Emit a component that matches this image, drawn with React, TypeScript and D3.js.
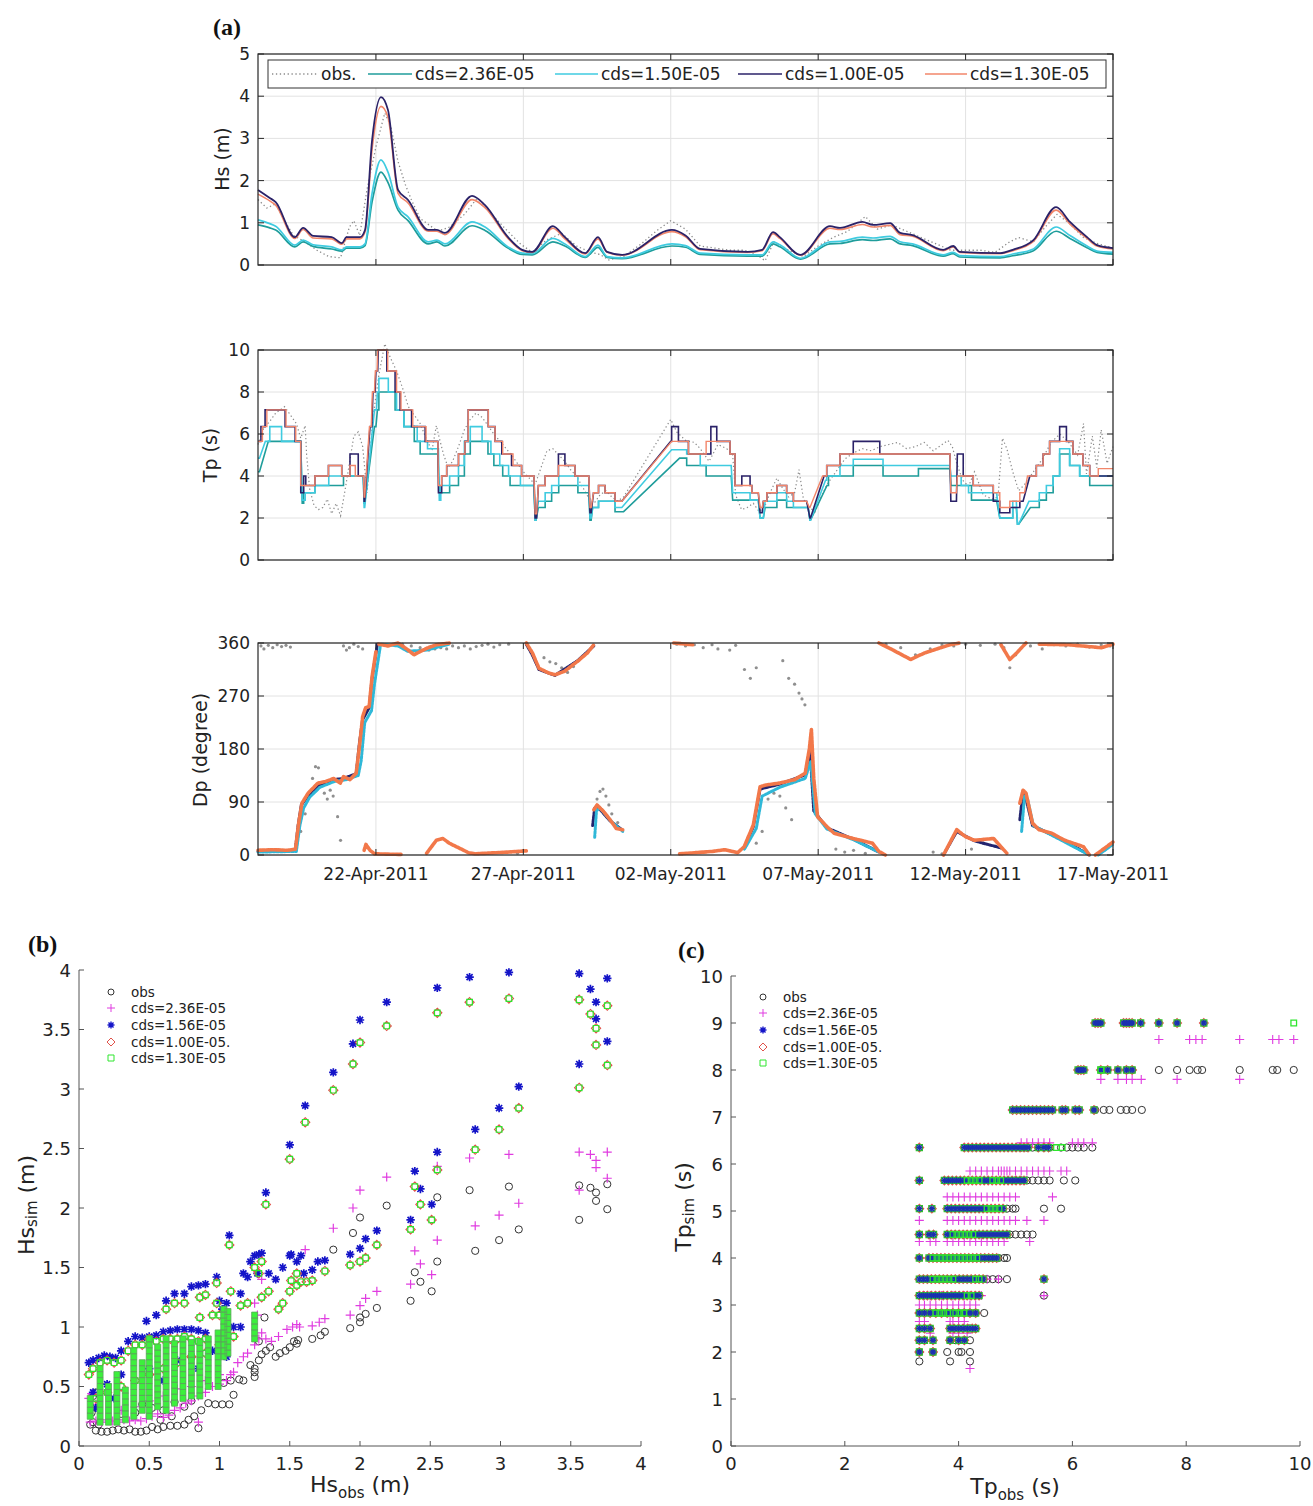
import React from 'react';
import * as d3 from 'd3';

// ---------------- DATA ----------------
const START = new Date(2011, 3, 18);
const END = new Date(2011, 4, 17);
const dateTicks = ['2011-04-22', '2011-04-27', '2011-05-02', '2011-05-07', '2011-05-12', '2011-05-17'];
const legendA = ['obs.', 'cds=2.36E-05', 'cds=1.50E-05', 'cds=1.00E-05', 'cds=1.30E-05'];
const legendBC = ['obs', 'cds=2.36E-05', 'cds=1.56E-05', 'cds=1.00E-05.', 'cds=1.30E-05'];
const hsTicks = [0, 1, 2, 3, 4, 5];
const tpTicks = [0, 2, 4, 6, 8, 10];
const dpTicks = [0, 90, 180, 270, 360];
const bTicks = [0, 0.5, 1, 1.5, 2, 2.5, 3, 3.5, 4];
const cTicks = [0, 2, 4, 6, 8, 10];
const cYTicks = [0, 1, 2, 3, 4, 5, 6, 7, 8, 9, 10];

// Hs time knots (days since 18-Apr-2011)
const tHs = [0, 0.4, 0.6, 1.25, 1.53, 1.87, 2.5, 2.85, 3.0, 3.46, 3.63, 3.87, 4.17, 4.41, 4.75, 5.09, 5.77, 6.07, 6.34, 7.26, 7.7, 8.48, 8.96, 9.3, 10.0, 10.41, 11.1, 11.53, 11.84, 12.35, 14.04, 14.5, 15.0, 16.6, 17.1, 17.47, 17.7, 18.4, 19.4, 19.74, 20.5, 20.86, 21.44, 21.78, 22.2, 23.24, 23.58, 23.8, 25.17, 25.6, 26.3, 27.07, 27.54, 28.12, 28.46, 29.0];
const hs236 = [0.95, 0.88, 0.83, 0.43, 0.55, 0.44, 0.38, 0.33, 0.4, 0.4, 0.46, 1.5, 2.2, 1.95, 1.3, 1.05, 0.5, 0.55, 0.45, 0.93, 0.82, 0.4, 0.25, 0.24, 0.55, 0.45, 0.18, 0.42, 0.18, 0.15, 0.45, 0.42, 0.25, 0.21, 0.21, 0.5, 0.43, 0.14, 0.5, 0.51, 0.6, 0.58, 0.62, 0.5, 0.46, 0.21, 0.27, 0.19, 0.17, 0.22, 0.34, 0.8, 0.63, 0.41, 0.3, 0.26];
const hs150 = [1.07, 0.98, 0.92, 0.47, 0.59, 0.48, 0.43, 0.36, 0.43, 0.43, 0.5, 1.7, 2.49, 2.2, 1.37, 1.14, 0.55, 0.59, 0.5, 1.02, 0.9, 0.43, 0.28, 0.27, 0.63, 0.5, 0.2, 0.47, 0.2, 0.17, 0.5, 0.46, 0.28, 0.24, 0.24, 0.55, 0.48, 0.16, 0.55, 0.56, 0.66, 0.64, 0.68, 0.55, 0.5, 0.24, 0.3, 0.22, 0.2, 0.26, 0.38, 0.9, 0.7, 0.45, 0.33, 0.3];
const hs100 = [1.78, 1.59, 1.49, 0.66, 0.88, 0.69, 0.66, 0.52, 0.66, 0.66, 0.83, 2.96, 3.98, 3.67, 1.78, 1.54, 0.83, 0.83, 0.76, 1.64, 1.42, 0.66, 0.36, 0.31, 0.92, 0.66, 0.28, 0.66, 0.31, 0.24, 0.83, 0.7, 0.38, 0.31, 0.36, 0.78, 0.66, 0.24, 0.92, 0.88, 1.02, 0.95, 0.99, 0.76, 0.71, 0.36, 0.45, 0.31, 0.28, 0.36, 0.59, 1.37, 1.02, 0.66, 0.47, 0.4];
const hs130 = [1.68, 1.52, 1.42, 0.63, 0.84, 0.64, 0.62, 0.49, 0.62, 0.62, 0.78, 2.75, 3.76, 3.5, 1.7, 1.47, 0.8, 0.8, 0.72, 1.55, 1.36, 0.63, 0.34, 0.3, 0.87, 0.62, 0.26, 0.62, 0.3, 0.23, 0.79, 0.67, 0.36, 0.3, 0.34, 0.74, 0.63, 0.23, 0.87, 0.84, 0.96, 0.9, 0.94, 0.72, 0.68, 0.34, 0.43, 0.3, 0.27, 0.34, 0.56, 1.3, 0.97, 0.63, 0.45, 0.38];
const hsObs = [[0, 1.55], [0.3, 1.35], [0.6, 1.45], [0.9, 1.05], [1.2, 0.7], [1.6, 0.55], [2.0, 0.35], [2.4, 0.2], [2.8, 0.17], [3.1, 0.9], [3.25, 1.05], [3.45, 0.7], [3.7, 1.8], [4.0, 2.8], [4.3, 3.6], [4.5, 3.3], [4.75, 2.45], [5.0, 1.9], [5.2, 1.55], [5.5, 1.1], [5.8, 0.95], [6.1, 0.8], [6.5, 0.9], [7.0, 1.2], [7.4, 1.55], [7.8, 1.3], [8.4, 0.85], [8.9, 0.5], [9.3, 0.3], [9.8, 0.6], [10.3, 0.75], [10.8, 0.45], [11.3, 0.3], [11.6, 0.25], [11.9, 0.12], [12.4, 0.2], [13.0, 0.5], [13.5, 0.8], [14.0, 1.05], [14.5, 0.85], [15.0, 0.45], [16.0, 0.35], [16.5, 0.35], [17.0, 0.2], [17.2, 0.1], [17.5, 0.55], [18.0, 0.35], [18.5, 0.2], [19.0, 0.45], [19.5, 0.65], [20.0, 0.8], [20.6, 1.15], [21.0, 0.85], [21.5, 0.95], [22.0, 0.8], [22.5, 0.65], [23.0, 0.5], [23.5, 0.35], [24.5, 0.35], [25.0, 0.3], [25.5, 0.55], [25.8, 0.65], [26.3, 0.55], [26.7, 0.9], [27.1, 1.2], [27.5, 1.0], [28.0, 0.65], [28.5, 0.5], [29, 0.4]];

// Tp step segments [tStart, tEnd, value]
const tp100 = [[0, 0.1, 5.65], [0.1, 0.24, 6.35], [0.24, 0.92, 7.15], [0.92, 1.26, 6.35], [1.26, 1.45, 5.65], [1.45, 1.55, 3.2], [1.55, 1.62, 4.0], [1.62, 1.93, 3.55], [1.93, 2.39, 4.0], [2.39, 2.84, 4.5], [2.84, 3.12, 4.0], [3.12, 3.4, 5.05], [3.4, 3.58, 4.0], [3.6, 3.62, 2.8], [3.8, 3.86, 6.35], [3.9, 3.97, 8.0], [4.0, 4.06, 9.0], [4.08, 4.37, 10.0], [4.37, 4.65, 9.0], [4.65, 4.82, 8.0], [4.82, 5.21, 7.15], [5.21, 5.67, 6.35], [5.67, 6.1, 5.65], [6.12, 6.23, 3.2], [6.23, 6.4, 4.0], [6.4, 6.8, 4.5], [6.8, 7.02, 5.05], [7.02, 7.13, 5.65], [7.13, 7.81, 7.15], [7.81, 8.04, 6.35], [8.04, 8.27, 5.65], [8.27, 8.6, 5.05], [8.6, 8.94, 4.5], [8.94, 9.36, 4.0], [9.4, 9.45, 2.0], [9.51, 9.74, 3.55], [9.74, 10.19, 4.0], [10.19, 10.41, 5.05], [10.41, 10.75, 4.5], [10.75, 11.22, 4.0], [11.26, 11.3, 2.25], [11.38, 11.55, 3.2], [11.55, 11.77, 3.55], [11.77, 12.11, 3.2], [12.11, 12.34, 2.8], [14.0, 14.03, 5.65], [14.03, 14.26, 6.35], [14.26, 14.6, 5.65], [14.6, 15.36, 5.05], [15.36, 15.56, 6.35], [15.56, 16.01, 5.65], [16.01, 16.18, 5.05], [16.18, 16.41, 3.55], [16.41, 16.69, 4.0], [16.69, 16.75, 3.55], [16.75, 16.97, 3.2], [17.03, 17.1, 2.25], [17.14, 17.26, 2.8], [17.26, 17.6, 3.2], [17.6, 17.93, 3.55], [17.93, 18.16, 3.2], [18.16, 18.61, 2.8], [18.72, 18.74, 2.0], [19.2, 19.29, 4.0], [19.29, 19.74, 4.5], [19.74, 20.19, 5.05], [20.19, 21.09, 5.65], [21.09, 23.47, 5.05], [23.5, 23.69, 2.8], [23.72, 23.92, 5.05], [23.92, 24.26, 4.0], [24.26, 24.94, 3.55], [24.94, 25.16, 2.8], [25.16, 25.5, 2.25], [25.5, 25.84, 2.5], [25.84, 25.95, 2.8], [26.18, 26.4, 4.0], [26.4, 26.63, 4.5], [26.63, 26.85, 5.05], [26.85, 27.19, 5.65], [27.19, 27.42, 6.35], [27.42, 27.64, 5.65], [27.64, 27.98, 5.05], [27.98, 28.21, 4.5], [28.21, 29, 4.0]];
const tp130 = [[0, 0.15, 5.65], [0.15, 0.3, 6.35], [0.3, 0.95, 7.15], [0.95, 1.28, 6.35], [1.28, 1.45, 5.65], [1.45, 1.93, 3.55], [1.93, 2.39, 4.0], [2.39, 2.84, 4.5], [2.84, 3.12, 4.0], [3.12, 3.3, 4.5], [3.3, 3.58, 4.0], [3.6, 3.62, 3.0], [3.78, 3.84, 6.35], [3.88, 3.95, 8.0], [3.98, 4.04, 9.0], [4.06, 4.4, 10.0], [4.4, 4.7, 9.0], [4.7, 4.85, 8.0], [4.85, 5.25, 7.15], [5.25, 5.7, 6.35], [5.7, 6.1, 5.65], [6.12, 6.23, 3.55], [6.23, 6.4, 4.0], [6.4, 6.8, 4.5], [6.8, 7.02, 5.05], [7.02, 7.13, 5.65], [7.13, 7.81, 7.15], [7.81, 8.04, 6.35], [8.04, 8.3, 5.65], [8.3, 8.65, 5.05], [8.65, 8.94, 4.5], [8.94, 9.36, 4.0], [9.4, 9.45, 2.2], [9.51, 9.74, 3.55], [9.74, 10.19, 4.0], [10.19, 10.75, 4.5], [10.75, 11.22, 4.0], [11.26, 11.3, 2.5], [11.38, 11.55, 3.2], [11.55, 11.77, 3.55], [11.77, 12.11, 3.2], [12.11, 12.34, 2.8], [14.03, 14.6, 5.65], [14.6, 15.2, 5.05], [15.2, 16.01, 5.65], [16.01, 16.18, 5.05], [16.18, 16.75, 3.55], [16.75, 16.97, 3.2], [17.03, 17.1, 2.5], [17.14, 17.26, 2.8], [17.26, 17.6, 3.2], [17.6, 17.93, 3.55], [17.93, 18.16, 3.2], [18.16, 18.61, 2.8], [18.7, 18.72, 2.5], [19.15, 19.29, 4.0], [19.29, 19.74, 4.5], [19.74, 23.47, 5.05], [23.5, 23.69, 3.2], [23.72, 24.26, 4.0], [24.26, 24.94, 3.55], [24.94, 25.16, 3.2], [25.16, 25.5, 2.5], [25.5, 25.84, 2.8], [25.84, 26.0, 3.2], [26.1, 26.4, 4.0], [26.4, 26.63, 4.5], [26.63, 26.85, 5.05], [26.85, 27.64, 5.65], [27.64, 27.98, 5.05], [27.98, 28.21, 4.5], [28.21, 28.5, 4.0], [28.5, 29, 4.35]];
const tp150 = [[0, 0.05, 4.85], [0.25, 0.4, 5.65], [0.4, 0.8, 6.35], [0.8, 1.45, 5.65], [1.5, 1.6, 2.85], [1.6, 1.93, 3.2], [1.93, 2.4, 3.55], [2.4, 3.57, 4.0], [3.6, 3.62, 2.5], [3.95, 4.02, 7.15], [4.05, 4.1, 8.0], [4.1, 4.42, 8.65], [4.42, 4.7, 8.0], [4.7, 4.95, 7.15], [4.95, 5.4, 6.35], [5.4, 5.75, 5.65], [5.75, 6.12, 5.3], [6.15, 6.2, 2.85], [6.2, 6.5, 3.55], [6.5, 6.8, 4.0], [6.8, 7.0, 4.5], [7.0, 7.2, 5.65], [7.2, 7.6, 6.35], [7.6, 7.9, 5.65], [7.9, 8.2, 5.05], [8.2, 8.5, 4.5], [8.5, 8.9, 4.0], [8.9, 9.36, 3.55], [9.4, 9.43, 1.9], [9.51, 9.74, 2.8], [9.74, 9.96, 3.2], [9.96, 10.2, 3.55], [10.2, 10.85, 4.0], [10.85, 11.22, 3.55], [11.26, 11.3, 2.0], [11.35, 11.55, 2.5], [11.55, 12.11, 2.8], [12.11, 12.34, 2.5], [14.03, 14.54, 5.25], [14.54, 15.0, 5.05], [15.0, 16.05, 4.5], [16.1, 16.69, 3.2], [16.69, 16.97, 2.85], [17.03, 17.14, 2.0], [17.2, 17.6, 2.8], [17.6, 17.93, 3.2], [17.93, 18.16, 2.8], [18.16, 18.66, 2.5], [18.72, 18.74, 1.9], [19.25, 19.29, 3.8], [19.29, 19.74, 4.0], [19.74, 20.19, 4.5], [20.19, 21.2, 4.8], [21.2, 23.47, 4.5], [23.5, 23.85, 4.0], [23.85, 24.1, 3.55], [24.1, 25.05, 3.2], [25.16, 25.6, 2.0], [25.6, 25.72, 2.8], [25.76, 25.8, 1.7], [26.15, 26.5, 2.8], [26.5, 26.74, 3.2], [26.74, 26.97, 3.55], [26.97, 27.19, 4.0], [27.19, 27.53, 5.3], [27.53, 27.87, 4.5], [27.87, 29, 4.0]];
const tp236 = [[0, 0.05, 4.2], [0.35, 1.45, 5.65], [1.5, 1.55, 2.7], [1.55, 1.93, 3.2], [1.93, 2.9, 3.55], [2.9, 3.57, 4.0], [3.6, 3.62, 2.7], [3.95, 4.0, 6.35], [4.05, 4.1, 7.15], [4.1, 4.65, 8.0], [4.65, 4.95, 7.15], [4.95, 5.3, 6.35], [5.3, 5.5, 5.65], [5.5, 6.1, 5.05], [6.15, 6.5, 3.2], [6.5, 6.8, 3.55], [6.8, 7.0, 4.0], [7.0, 7.2, 5.05], [7.2, 7.8, 5.65], [7.8, 8.0, 5.05], [8.0, 8.3, 4.5], [8.3, 8.55, 4.0], [8.55, 9.36, 3.55], [9.4, 9.43, 1.9], [9.51, 9.74, 2.5], [9.74, 9.96, 2.8], [9.96, 10.2, 3.2], [10.2, 10.85, 3.55], [10.85, 11.22, 3.2], [11.26, 11.3, 1.9], [11.35, 11.55, 2.5], [11.55, 12.11, 2.8], [12.11, 12.4, 2.3], [14.3, 14.54, 4.85], [14.54, 15.2, 4.5], [15.2, 16.05, 4.0], [16.1, 16.97, 2.85], [17.03, 17.14, 2.0], [17.2, 17.6, 2.5], [17.6, 17.93, 2.85], [17.93, 18.66, 2.5], [18.72, 18.74, 1.9], [19.3, 19.35, 3.55], [19.35, 20.19, 4.0], [20.19, 21.2, 4.5], [21.2, 22.4, 4.0], [22.4, 23.47, 4.35], [23.5, 24.2, 3.55], [24.2, 25.05, 2.85], [25.16, 25.6, 2.0], [25.6, 25.72, 2.5], [25.76, 25.8, 1.7], [26.2, 26.5, 2.5], [26.5, 26.74, 2.85], [26.74, 26.97, 3.2], [26.97, 27.19, 4.0], [27.19, 27.53, 5.05], [27.53, 27.87, 4.5], [27.87, 28.21, 4.0], [28.21, 29, 3.55]];
const tpObs = [[0, 5.5], [0.2, 6.3], [0.4, 6.6], [0.6, 7.0], [0.9, 7.3], [1.1, 6.9], [1.3, 6.5], [1.45, 5.8], [1.6, 6.4], [1.65, 5.0], [1.75, 3.4], [1.9, 2.6], [2.05, 2.4], [2.2, 2.5], [2.35, 2.9], [2.5, 2.2], [2.65, 2.7], [2.8, 2.1], [2.95, 3.3], [3.1, 4.6], [3.25, 5.9], [3.4, 6.1], [3.55, 5.4], [3.7, 3.2], [3.9, 6.8], [4.1, 8.8], [4.3, 10.3], [4.5, 9.6], [4.7, 9.0], [4.9, 8.2], [5.1, 7.3], [5.3, 6.9], [5.5, 6.5], [5.7, 5.8], [5.9, 5.2], [6.05, 6.4], [6.15, 5.8], [6.3, 5.0], [6.45, 4.4], [6.6, 4.7], [6.8, 5.4], [7.0, 6.2], [7.2, 6.7], [7.4, 7.0], [7.6, 6.8], [7.8, 6.4], [8.0, 6.0], [8.3, 5.5], [8.6, 5.0], [8.8, 4.6], [9.0, 4.2], [9.2, 3.9], [9.4, 3.6], [9.6, 4.4], [9.8, 5.2], [10.0, 5.3], [10.2, 5.0], [10.4, 4.7], [10.6, 4.3], [10.8, 4.0], [11.0, 3.5], [11.2, 3.0], [11.4, 2.7], [11.6, 3.1], [11.8, 3.3], [12.0, 3.0], [12.2, 2.8], [12.4, 3.0], [14.0, 6.7], [14.2, 6.1], [14.5, 5.7], [14.8, 5.6], [15.0, 5.3], [15.3, 4.7], [15.6, 5.5], [15.9, 5.3], [16.1, 5.0], [16.2, 3.1], [16.4, 2.4], [16.6, 2.5], [16.8, 2.7], [17.0, 2.3], [17.2, 2.6], [17.4, 3.3], [17.6, 3.9], [17.8, 3.4], [18.0, 3.0], [18.2, 3.2], [18.35, 4.3], [18.5, 2.9], [18.7, 2.5], [18.9, 2.3], [19.1, 3.0], [19.3, 3.6], [19.6, 4.2], [19.9, 4.8], [20.2, 5.1], [20.5, 5.3], [20.8, 5.2], [21.1, 5.4], [21.4, 5.5], [21.7, 5.6], [22.0, 5.3], [22.3, 5.4], [22.6, 5.6], [22.9, 5.2], [23.2, 5.5], [23.4, 5.7], [23.55, 5.4], [23.7, 4.6], [23.9, 3.8], [24.1, 3.5], [24.3, 4.2], [24.6, 3.1], [24.9, 2.9], [25.1, 3.0], [25.25, 5.8], [25.4, 5.3], [25.6, 4.2], [25.8, 3.3], [26.0, 3.6], [26.3, 4.2], [26.6, 4.8], [26.9, 5.6], [27.2, 6.0], [27.5, 5.6], [27.8, 5.0], [28.0, 6.5], [28.1, 4.1], [28.3, 5.9], [28.45, 4.4], [28.6, 6.2], [28.8, 4.6], [29, 5.4]];

// Dp segments [t, deg]
const dp130 = [
  [[0, 8], [0.5, 9], [1.0, 8], [1.27, 10], [1.38, 54], [1.49, 88], [1.7, 105], [2.03, 122], [2.3, 125], [2.57, 130], [2.79, 122], [2.9, 133], [3.12, 128], [3.33, 139], [3.44, 184], [3.55, 235], [3.65, 250], [3.77, 252], [3.87, 303], [4.0, 345]],
  [[3.6, 8], [3.66, 18], [3.8, 8], [3.95, 2], [4.85, 1]],
  [[4.1, 358], [4.4, 355], [4.75, 360], [5.07, 349], [5.29, 340], [5.72, 351], [6.05, 357], [6.49, 360]],
  [[5.72, 3], [6.05, 25], [6.27, 28], [6.49, 20], [7.14, 4], [7.35, 2], [8.5, 5], [9.1, 7]],
  [[9.1, 360], [9.31, 343], [9.53, 317], [9.86, 309], [10.07, 306], [10.4, 312], [10.84, 329], [11.17, 343], [11.39, 357]],
  [[11.39, 77], [11.5, 85], [11.72, 74], [11.94, 60], [12.15, 45], [12.37, 43]],
  [[14.1, 360], [14.75, 357]],
  [[14.3, 2], [15.4, 6], [15.83, 9], [16.27, 4], [16.49, 14], [16.8, 51], [17.03, 116], [17.24, 119], [17.68, 122], [18.2, 128], [18.56, 139], [18.7, 180], [18.77, 213], [18.85, 130], [18.98, 65], [19.3, 48], [19.54, 37], [20.19, 28], [20.84, 20], [21.06, 6], [21.28, 0]],
  [[21.06, 360], [21.5, 349], [22.14, 332], [22.6, 343], [23.47, 357], [23.8, 360]],
  [[23.25, 0], [23.7, 43], [24.0, 31], [24.3, 25], [24.95, 28], [25.2, 14], [25.4, 3]],
  [[25.2, 357], [25.5, 332], [25.73, 343], [26.05, 360]],
  [[25.84, 88], [25.95, 110], [26.05, 105], [26.27, 54], [26.49, 43], [26.92, 37], [27.36, 25], [28.0, 14], [28.2, 0]],
  [[26.5, 358], [27.5, 357], [28.6, 352], [29, 358]],
  [[28.4, 0], [29, 22]]
];
const dp100 = [
  [[0, 6], [1.27, 8]],
  [[1.27, 10], [1.36, 50], [1.47, 85], [1.7, 100], [2.03, 118], [2.57, 128], [2.9, 130], [3.33, 138], [3.44, 190], [3.55, 230], [3.77, 250], [3.87, 300], [4.05, 358]],
  [[9.1, 358], [9.3, 340], [9.53, 315], [10.07, 305], [10.84, 330], [11.39, 355]],
  [[11.35, 50], [11.42, 80], [11.5, 83], [11.94, 58], [12.37, 42]],
  [[16.49, 12], [16.8, 48], [17.03, 112], [17.68, 120], [18.56, 136], [18.72, 181], [18.85, 75], [19.3, 46], [20.19, 27], [21.06, 5]],
  [[23.25, 0], [23.7, 40], [24.3, 24], [25.2, 12]],
  [[25.84, 60], [25.95, 108], [26.05, 95], [26.27, 50], [27.36, 24], [28.2, 0]]
];
const dp150 = [
  [[0, 5], [1.3, 6], [1.42, 50], [1.55, 80], [1.75, 98], [2.1, 115], [2.6, 125], [3.0, 128], [3.4, 135], [3.5, 160], [3.62, 225], [3.85, 245], [3.95, 290], [4.15, 355]],
  [[4.2, 358], [4.75, 355], [5.07, 346], [5.72, 348], [6.49, 358]],
  [[11.42, 30], [11.48, 75], [11.6, 80], [12.0, 56], [12.37, 40]],
  [[16.5, 10], [16.9, 45], [17.1, 100], [17.7, 115], [18.56, 130], [18.75, 159], [18.9, 70], [19.3, 44], [20.19, 26], [21.1, 4]],
  [[25.9, 40], [26.0, 100], [26.1, 95], [26.3, 50], [27.36, 22], [28.2, 0]],
  [[28.5, 0], [29, 18]]
];
const dpObs = [[0.1, 355], [0.2, 350], [0.35, 356], [0.5, 352], [0.65, 357], [0.8, 354], [0.95, 356], [1.1, 353], [1.3, 20], [1.45, 40], [1.6, 70], [1.75, 100], [1.85, 130], [1.95, 150], [2.05, 148], [2.15, 120], [2.25, 105], [2.35, 95], [2.45, 110], [2.55, 100], [2.7, 65], [2.8, 25], [2.9, 355], [3.0, 348], [3.1, 352], [3.25, 358], [3.4, 354], [3.55, 350], [4.9, 358], [5.2, 355], [5.5, 352], [5.8, 348], [6.0, 350], [6.2, 352], [6.4, 350], [6.6, 355], [6.8, 352], [7.0, 355], [7.2, 350], [7.4, 354], [7.6, 356], [7.8, 358], [8.0, 353], [8.2, 357], [8.5, 358], [8.8, 3], [9.0, 8], [9.7, 335], [9.9, 328], [10.1, 325], [10.3, 318], [10.5, 310], [10.7, 320], [11.5, 95], [11.6, 108], [11.7, 112], [11.8, 100], [11.9, 85], [12.0, 70], [12.2, 55], [14.2, 358], [14.5, 355], [14.8, 357], [15.1, 352], [15.4, 357], [15.6, 350], [16.0, 348], [16.2, 356], [16.5, 315], [16.7, 300], [16.9, 318], [16.9, 20], [17.1, 40], [17.3, 95], [17.5, 105], [17.7, 100], [17.8, 330], [17.9, 80], [18.0, 300], [18.1, 60], [18.2, 290], [18.35, 275], [18.45, 265], [18.55, 255], [19.6, 10], [19.9, 5], [20.2, 8], [20.6, 3], [21.3, 358], [21.8, 352], [22.3, 340], [22.8, 350], [22.9, 5], [23.2, 2], [23.2, 357], [23.6, 355], [24.0, 358], [24.2, 10], [24.5, 356], [24.6, 20], [25.0, 15], [25.0, 358], [25.3, 352], [25.5, 318], [25.7, 340], [26.2, 355], [26.6, 350], [27.0, 357], [27.4, 355], [27.8, 358], [28.2, 353], [28.6, 357], [28.9, 355]];

// (b) Hs scatter [Hs_obs, Hs_sim]
const bObs = [[3.56, 2.19], [3.64, 2.17], [3.68, 2.13], [3.68, 2.06], [3.76, 2.2], [3.76, 1.99], [3.56, 1.9], [3.06, 2.18], [2.78, 2.15], [2.55, 2.09], [2.19, 2.02], [2.0, 1.92], [1.95, 1.79], [1.81, 1.65], [3.13, 1.82], [2.99, 1.73], [2.82, 1.64], [2.55, 1.55], [2.39, 1.46], [2.43, 1.38], [2.36, 1.22], [2.51, 1.3], [2.12, 1.16], [2.04, 1.11], [2.0, 1.08], [2.0, 1.04], [1.93, 0.99], [1.75, 0.96], [1.72, 0.93], [1.66, 0.9], [1.55, 0.86], [1.53, 0.88], [1.56, 0.89], [1.5, 0.83], [1.47, 0.8], [1.43, 0.78], [1.4, 0.75], [1.36, 0.83], [1.33, 0.8], [1.3, 0.77], [1.28, 0.72], [1.25, 0.58], [1.25, 0.62], [1.25, 0.65], [1.32, 1.08], [1.28, 0.88], [1.22, 0.68], [1.17, 0.55], [1.14, 0.56], [1.1, 0.43], [1.08, 0.55], [1.03, 0.53], [1.07, 0.35], [1.02, 0.35], [0.97, 0.35], [0.92, 0.36], [0.87, 0.3], [0.85, 0.15], [0.82, 0.25], [0.78, 0.22], [0.75, 0.18], [0.7, 0.17], [0.65, 0.17], [0.6, 0.16], [0.56, 0.14], [0.52, 0.16], [0.48, 0.13], [0.44, 0.12], [0.4, 0.12], [0.36, 0.14], [0.32, 0.13], [0.28, 0.14], [0.24, 0.13], [0.2, 0.12], [0.16, 0.12], [0.12, 0.13], [0.08, 0.18], [0.1, 0.2], [0.14, 0.18], [0.09, 0.28], [0.1, 0.42], [0.12, 0.45], [0.45, 0.35], [0.52, 0.32], [0.6, 0.3], [0.68, 0.37], [0.75, 0.33], [0.8, 0.38], [0.4, 0.28], [0.3, 0.27], [0.58, 0.22], [0.66, 0.25]];
const b236 = [[3.56, 2.47], [3.64, 2.45], [3.68, 2.4], [3.68, 2.34], [3.76, 2.47], [3.76, 2.25], [3.56, 2.15], [3.06, 2.45], [2.78, 2.42], [2.55, 2.35], [2.19, 2.26], [2.0, 2.15], [1.95, 2.0], [1.81, 1.83], [1.61, 1.65], [3.13, 2.04], [2.99, 1.94], [2.82, 1.85], [2.55, 1.73], [2.39, 1.64], [2.43, 1.53], [2.36, 1.36], [2.51, 1.44], [2.12, 1.3], [2.04, 1.24], [2.0, 1.18], [1.93, 1.1], [1.75, 1.07], [1.71, 1.04], [1.66, 1.01], [1.57, 1.0], [1.55, 1.02], [1.52, 1.0], [1.48, 0.98], [1.42, 0.92], [1.37, 0.88], [1.33, 0.9], [1.3, 0.95], [1.28, 0.9], [1.25, 0.85], [1.2, 0.78], [1.17, 0.75], [1.13, 0.7], [1.1, 0.62], [1.08, 0.6], [1.05, 0.55], [1.0, 0.52], [0.95, 0.5], [0.9, 0.45], [0.85, 0.42], [0.8, 0.38], [0.76, 0.36], [0.72, 0.32], [0.68, 0.3], [0.64, 0.26], [0.6, 0.24], [0.56, 0.27], [0.52, 0.25], [0.48, 0.23], [0.44, 0.21], [0.4, 0.22], [0.36, 0.21], [0.32, 0.22], [0.28, 0.2], [0.24, 0.21], [0.2, 0.22], [0.16, 0.2], [0.12, 0.21], [0.08, 0.2], [0.85, 0.2], [0.07, 0.4], [0.09, 0.44], [0.12, 0.35], [0.5, 0.38], [0.6, 0.42], [0.7, 0.48], [0.8, 0.5], [0.9, 0.55], [1.0, 0.6], [0.3, 0.3], [0.4, 0.33], [1.27, 1.1], [1.25, 1.2], [1.3, 1.4]];
const b156 = [[3.76, 3.93], [3.56, 3.97], [3.06, 3.98], [2.78, 3.94], [2.55, 3.85], [2.19, 3.73], [2.0, 3.58], [1.95, 3.38], [1.81, 3.14], [1.61, 2.86], [1.5, 2.53], [1.33, 2.13], [1.07, 1.77], [3.64, 3.84], [3.68, 3.73], [3.68, 3.59], [3.76, 3.4], [3.56, 3.21], [3.13, 3.02], [2.99, 2.84], [2.82, 2.66], [2.55, 2.47], [2.39, 2.31], [2.43, 2.16], [2.36, 1.9], [2.51, 2.03], [2.12, 1.81], [2.0, 1.66], [2.04, 1.74], [1.93, 1.61], [1.75, 1.56], [1.66, 1.48], [1.51, 1.61], [0.07, 0.7], [0.1, 0.72], [0.14, 0.74], [0.18, 0.76], [0.22, 0.75], [0.26, 0.74], [0.3, 0.8], [0.35, 0.88], [0.4, 0.92], [0.45, 0.91], [0.5, 0.92], [0.55, 0.93], [0.6, 0.96], [0.65, 0.97], [0.7, 0.98], [0.75, 0.98], [0.8, 0.98], [0.85, 0.97], [0.9, 0.95], [0.48, 1.05], [0.55, 1.1], [0.62, 1.22], [0.68, 1.28], [0.75, 1.28], [0.8, 1.34], [0.85, 1.35], [0.9, 1.36], [0.98, 1.42], [1.0, 1.22], [1.02, 1.15], [1.05, 1.2], [1.1, 1.0], [1.15, 1.28], [1.17, 1.45], [1.22, 1.55], [1.25, 1.6], [1.28, 1.61], [1.3, 1.62], [1.35, 1.45], [1.4, 1.4], [1.45, 1.5], [1.5, 1.6], [1.55, 1.55], [1.58, 1.6], [1.6, 1.45], [1.2, 1.42], [0.1, 0.45], [0.2, 0.52], [0.3, 0.6], [0.5, 0.65], [0.7, 0.72], [0.95, 0.8], [1.05, 1.05], [0.12, 0.32], [0.25, 0.4], [0.6, 0.55], [0.85, 0.65], [1.05, 0.75], [1.15, 1.0], [1.27, 1.45], [1.7, 1.55]];
const b100 = [[3.76, 3.7], [3.56, 3.75], [3.06, 3.76], [2.78, 3.73], [2.55, 3.64], [2.19, 3.53], [2.0, 3.39], [1.95, 3.21], [1.81, 2.99], [1.61, 2.72], [1.5, 2.41], [1.33, 2.03], [1.07, 1.69], [3.64, 3.63], [3.68, 3.51], [3.68, 3.37], [3.76, 3.2], [3.56, 3.01], [3.13, 2.84], [2.99, 2.66], [2.82, 2.49], [2.55, 2.32], [2.39, 2.18], [2.43, 2.03], [2.36, 1.82], [2.51, 1.9], [2.12, 1.69], [2.0, 1.55], [2.04, 1.58], [1.93, 1.52], [1.75, 1.47], [1.66, 1.39], [1.51, 1.39], [0.07, 0.6], [0.1, 0.65], [0.15, 0.7], [0.2, 0.72], [0.25, 0.7], [0.3, 0.72], [0.35, 0.8], [0.4, 0.85], [0.45, 0.85], [0.5, 0.9], [0.55, 0.88], [0.6, 0.9], [0.65, 0.9], [0.7, 0.9], [0.75, 0.92], [0.8, 0.9], [0.85, 0.88], [0.9, 0.9], [0.62, 1.15], [0.68, 1.2], [0.75, 1.2], [0.86, 1.08], [0.86, 1.25], [0.9, 1.27], [0.98, 1.2], [0.98, 1.37], [1.08, 1.3], [1.25, 1.5], [1.28, 1.45], [1.3, 1.55], [1.3, 1.25], [1.35, 1.3], [1.42, 1.15], [1.45, 1.2], [1.5, 1.3], [1.55, 1.35], [1.55, 1.45], [1.58, 1.38], [1.62, 1.38], [0.12, 0.4], [0.2, 0.45], [0.3, 0.5], [0.4, 0.55], [0.5, 0.6], [0.6, 0.65], [0.7, 0.7], [0.8, 0.75], [0.9, 0.78], [1.0, 0.85], [1.05, 0.95], [1.1, 0.92], [1.15, 1.18], [1.2, 1.2], [0.95, 1.1], [1.0, 1.1]];
const b130ColX = [0.08, 0.15, 0.21, 0.27, 0.33, 0.39, 0.45, 0.5, 0.56, 0.62, 0.68, 0.74, 0.8, 0.86, 0.92, 0.99, 1.03, 1.06, 1.25];
const b130ColY = [
  [0.25, 0.3, 0.35, 0.4],
  [0.2, 0.25, 0.3, 0.35, 0.4, 0.45, 0.5, 0.55, 0.6, 0.65],
  [0.2, 0.25, 0.3, 0.35, 0.4, 0.45, 0.5],
  [0.2, 0.25, 0.3, 0.35, 0.4, 0.45, 0.5, 0.55, 0.6],
  [0.22, 0.27, 0.32, 0.37, 0.42, 0.47],
  [0.25, 0.3, 0.35, 0.4, 0.45, 0.5, 0.55, 0.6, 0.65, 0.7, 0.75, 0.8],
  [0.3, 0.35, 0.4, 0.45, 0.5, 0.55, 0.6, 0.65, 0.7],
  [0.25, 0.3, 0.35, 0.4, 0.45, 0.5, 0.55, 0.6, 0.65, 0.7, 0.75, 0.8, 0.85, 0.9],
  [0.33, 0.38, 0.43, 0.48, 0.53, 0.58, 0.63, 0.68, 0.73, 0.78, 0.83],
  [0.3, 0.35, 0.4, 0.45, 0.5, 0.55, 0.6, 0.65, 0.7, 0.75, 0.8, 0.85, 0.9],
  [0.36, 0.41, 0.46, 0.51, 0.56, 0.61, 0.66, 0.71, 0.76, 0.81, 0.86],
  [0.4, 0.45, 0.5, 0.55, 0.6, 0.65, 0.7, 0.75, 0.8, 0.85, 0.9],
  [0.42, 0.47, 0.52, 0.57, 0.62, 0.67, 0.72, 0.77, 0.82, 0.87],
  [0.42, 0.47, 0.52, 0.57, 0.62, 0.67, 0.72, 0.77, 0.82, 0.87],
  [0.5, 0.55, 0.6, 0.65, 0.7, 0.75, 0.8, 0.85, 0.9],
  [0.5, 0.55, 0.6, 0.65, 0.7, 0.75, 0.8, 0.85, 0.9, 0.95],
  [0.75, 0.8, 0.85, 0.9, 0.95, 1.0, 1.05, 1.1, 1.15],
  [0.78, 0.83, 0.88, 0.93, 0.98, 1.03, 1.08, 1.13],
  [0.9, 0.95, 1.0, 1.05, 1.1]
];

// (c) Tp scatter rows: [Tp_sim, [Tp_obs...]]
const cSimRows = [
  [9.0, [6.4, 6.45, 6.5, 6.9, 6.95, 7.0, 7.05, 7.2, 7.52, 7.84, 8.31]],
  [8.0, [6.1, 6.15, 6.2, 6.5, 6.62, 6.8, 6.95, 7.05]],
  [7.15, [4.95, 5.02, 5.09, 5.16, 5.23, 5.3, 5.37, 5.44, 5.51, 5.58, 5.65, 5.82, 5.88, 6.05, 6.12, 6.38]],
  [6.35, [3.31, 4.1, 4.17, 4.24, 4.31, 4.38, 4.45, 4.52, 4.59, 4.66, 4.73, 4.8, 4.87, 4.94, 5.01, 5.08, 5.15, 5.22, 5.4, 5.5, 5.58]],
  [5.65, [3.31, 3.75, 3.82, 3.89, 3.96, 4.03, 4.1, 4.17, 4.24, 4.31, 4.38, 4.45, 4.52, 4.59, 4.66, 4.73, 4.8, 4.87, 4.94, 5.01, 5.08, 5.15]],
  [5.05, [3.31, 3.53, 3.8, 3.87, 3.94, 4.01, 4.08, 4.15, 4.22, 4.29, 4.36, 4.43, 4.5, 4.57, 4.64, 4.71, 4.78]],
  [4.5, [3.31, 3.48, 3.56, 3.8, 3.87, 3.94, 4.01, 4.08, 4.15, 4.22, 4.29, 4.36, 4.43, 4.5, 4.57, 4.64, 4.71, 4.78, 4.85]],
  [4.0, [3.31, 3.48, 3.55, 3.62, 3.69, 3.76, 3.83, 3.9, 3.97, 4.04, 4.11, 4.18, 4.25, 4.32, 4.39, 4.46, 4.53, 4.6, 4.67]],
  [3.55, [3.31, 3.38, 3.45, 3.52, 3.59, 3.66, 3.73, 3.8, 3.87, 3.94, 4.01, 4.08, 4.15, 4.22, 4.29, 4.36, 4.43, 5.5]],
  [3.2, [3.31, 3.38, 3.45, 3.52, 3.59, 3.66, 3.73, 3.8, 3.87, 3.94, 4.01, 4.08, 4.15, 4.22, 4.29, 4.36]],
  [2.83, [3.31, 3.4, 3.5, 3.6, 3.7, 3.8, 3.9, 4.0, 4.1, 4.2, 4.3]],
  [2.5, [3.31, 3.4, 3.5, 3.85, 3.92, 4.0, 4.08, 4.16, 4.24, 4.3]],
  [2.25, [3.31, 3.4, 3.55, 3.85, 4.0, 4.1]],
  [2.0, [3.31, 3.55]]
];
const cGreenRows = [
  [6.35, [5.72, 5.82]],
  [5.65, [4.15, 4.22, 4.29, 4.36, 4.6, 4.67, 4.74]],
  [5.05, [4.5, 4.57, 4.64, 4.71]],
  [4.5, [3.9, 3.97, 4.04, 4.11, 4.18, 4.25]],
  [4.0, [3.55, 3.62, 3.69, 3.76, 3.83, 3.9, 3.97, 4.04, 4.11, 4.18, 4.25, 4.32]],
  [3.55, [3.55, 3.62, 3.69, 3.76, 3.83, 3.9, 4.3, 4.36]],
  [3.2, [4.15, 4.22]],
  [2.83, [3.6, 3.67, 3.74, 3.81, 3.95, 4.02, 4.09]],
  [9.0, [9.89]],
  [8.0, [6.5]]
];
const cObsRows = [
  [8.0, [6.95, 7.05, 7.52, 7.84, 8.06, 8.2, 8.28, 8.94, 9.52, 9.6, 9.89]],
  [7.15, [6.4, 6.55, 6.65, 6.85, 6.95, 7.05, 7.22]],
  [6.35, [5.1, 5.2, 5.3, 5.4, 5.5, 5.6, 5.8, 5.9, 6.0, 6.1, 6.2, 6.35]],
  [5.65, [5.0, 5.1, 5.2, 5.3, 5.4, 5.5, 5.6, 5.85, 6.05]],
  [5.05, [4.85, 4.95, 5.0, 5.5, 5.8]],
  [4.5, [4.9, 5.0, 5.1, 5.2, 5.3]],
  [4.0, [4.6, 4.7, 4.8, 4.85]],
  [3.55, [4.5, 4.6, 4.7, 4.85]],
  [3.2, [5.5]],
  [2.83, [4.2, 4.3, 4.45]],
  [2.5, [3.5, 4.2, 4.3]],
  [2.25, [3.85, 3.95, 4.1, 4.2]],
  [2.0, [3.31, 3.55, 3.8, 4.0, 4.05, 4.2]],
  [1.8, [3.31, 3.85, 4.2]]
];
const cCrossRows = [
  [8.65, [7.52, 8.06, 8.17, 8.28, 8.94, 9.52, 9.63, 9.89]],
  [7.8, [6.5, 6.8, 6.95, 7.05, 7.21, 7.84, 8.94]],
  [6.45, [5.1, 5.2, 5.3, 5.4, 5.5, 5.6, 6.0, 6.1, 6.2, 6.35]],
  [5.85, [4.2, 4.3, 4.4, 4.5, 4.6, 4.7, 4.75, 4.8, 4.85, 4.9, 5.0, 5.1, 5.2, 5.3, 5.4, 5.5, 5.6, 5.8, 5.9]],
  [5.3, [3.8, 3.9, 4.0, 4.1, 4.2, 4.3, 4.4, 4.5, 4.6, 4.7, 4.8, 4.9, 5.0, 5.65]],
  [4.8, [3.31, 3.8, 3.9, 4.0, 4.1, 4.2, 4.3, 4.4, 4.5, 4.6, 4.7, 4.8, 4.9, 5.0, 5.2, 5.5]],
  [4.35, [3.31, 3.5, 3.6, 3.8, 3.9, 4.0, 4.1, 4.2, 4.3, 4.4, 4.5, 4.6, 4.7, 4.8, 5.25]],
  [3.55, [4.3, 4.5, 4.7]],
  [3.2, [3.4, 3.5, 3.6, 3.7, 3.8, 3.9, 4.0, 4.1, 4.2, 4.3, 4.4, 5.5]],
  [3.0, [3.31, 3.4, 3.5, 3.6, 3.7, 3.8, 3.9, 4.0, 4.1, 4.2, 4.3]],
  [2.65, [3.31, 3.4, 3.85, 3.9, 4.0, 4.1]],
  [2.4, [3.5, 3.9, 4.0, 4.15]],
  [2.0, [3.31, 3.55]],
  [1.65, [4.2]]
];

// ---------------- STYLE ----------------
const colA = ['#8a8a8a', '#1f9d9b', '#3fcbe0', '#2b2268', '#f2866a'];
const colDp = { navy: '#23246e', cyan: '#2fb8d8', orange: '#f2784a', obs: '#8f8f8f' };
const mk = { obs: '#333333', cross: '#e03ce0', star: '#1414c8', diam: '#e0524a', sq: '#2ee62e' };
const SANS = '"DejaVu Sans", Verdana, sans-serif';
const SERIF = '"Liberation Serif", "Times New Roman", serif';

const circ = (x, y, r) => `M${x - r},${y}a${r},${r} 0 1,0 ${2 * r},0a${r},${r} 0 1,0 ${-2 * r},0`;
const plus = (x, y, s) => `M${x - s},${y}h${2 * s}M${x},${y - s}v${2 * s}`;
const star = (x, y, s) => plus(x, y, s) + `M${x - s * 0.72},${y - s * 0.72}l${1.44 * s},${1.44 * s}M${x - s * 0.72},${y + s * 0.72}l${1.44 * s},${-1.44 * s}`;
const diam = (x, y, s) => `M${x},${y - s}l${s},${s}l${-s},${s}l${-s},${-s}z`;
const sq = (x, y, s) => `M${x - s},${y - s}h${2 * s}v${2 * s}h${-2 * s}z`;

const flatRows = (rows) => rows.flatMap(([y, xs]) => xs.map((xv) => [xv, y]));

export default function App() {
  const td = (t) => new Date(START.getTime() + t * 864e5);
  const x = d3.scaleTime().domain([START, END]).range([258, 1113]);
  const yHs = d3.scaleLinear().domain([0, 5]).range([265, 54]);
  const yTp = d3.scaleLinear().domain([0, 10]).range([560, 350]);
  const yDp = d3.scaleLinear().domain([0, 360]).range([855, 643]);
  const parse = d3.timeParse('%Y-%m-%d');
  const fmt = d3.timeFormat('%d-%b-%Y');
  const dts = dateTicks.map((s) => parse(s));

  const frame = (y, ticks, key) => {
    const [y0, y1] = y.range();
    const x0 = 258, x1 = 1113;
    return (
      <g key={key}>
        {ticks.map((v) => <line key={'g' + v} x1={x0} x2={x1} y1={y(v)} y2={y(v)} stroke="#e2e2e2" strokeWidth={1} />)}
        {dts.map((d, i) => <line key={'v' + i} x1={x(d)} x2={x(d)} y1={y0} y2={y1} stroke="#e2e2e2" strokeWidth={1} />)}
      </g>
    );
  };
  const frameTop = (y, ticks, key) => {
    const [y0, y1] = y.range();
    const x0 = 258, x1 = 1113;
    return (
      <g key={key}>
        <rect x={x0} y={y1} width={x1 - x0} height={y0 - y1} fill="none" stroke="#262626" strokeWidth={1.2} />
        {ticks.map((v) => (
          <g key={'t' + v}>
            <line x1={x0} x2={x0 + 6} y1={y(v)} y2={y(v)} stroke="#262626" />
            <line x1={x1 - 6} x2={x1} y1={y(v)} y2={y(v)} stroke="#262626" />
            <text x={250} y={y(v)} textAnchor="end" dominantBaseline="central" fontSize={17} fontFamily={SANS} fill="#222">{v}</text>
          </g>
        ))}
        {dts.map((d, i) => (
          <g key={'d' + i}>
            <line x1={x(d)} x2={x(d)} y1={y0} y2={y0 - 6} stroke="#262626" />
            <line x1={x(d)} x2={x(d)} y1={y1} y2={y1 + 6} stroke="#262626" />
          </g>
        ))}
      </g>
    );
  };

  const hsLine = (vals) => d3.line().curve(d3.curveMonotoneX).x((d, i) => x(td(tHs[i]))).y((d) => yHs(d))(vals);
  const obsLine = (pts, y) => d3.line().x((d) => x(td(d[0]))).y((d) => y(d[1]))(pts);
  const stepPath = (segs) => {
    const pts = segs.flatMap(([a, b, v]) => [[a, v], [b, v]]);
    return d3.line().x((d) => x(td(d[0]))).y((d) => yTp(d[1]))(pts);
  };
  const dpPath = (seg) => d3.line().x((d) => x(td(d[0]))).y((d) => yDp(d[1]))(seg);

  // legend (a)
  const legX = [[272, 318, 321], [368, 412, 415], [555, 598, 601], [738, 782, 785], [925, 967, 970]];

  // panel (b) scales
  const bx = d3.scaleLinear().domain([0, 4]).range([79, 641]);
  const by = d3.scaleLinear().domain([0, 4]).range([1446, 970]);
  const cx = d3.scaleLinear().domain([0, 10]).range([731, 1300]);
  const cy = d3.scaleLinear().domain([0, 10]).range([1446, 976]);

  const pathOf = (pts, sx, sy, fn, s) => pts.map((p) => fn(sx(p[0]), sy(p[1]), s)).join('');
  const b130Cols = b130ColX.flatMap((xv, i) => b130ColY[i].map((yv) => [xv, yv]));
  const cSim = flatRows(cSimRows);
  const cGreen = flatRows(cGreenRows);
  const cObs = flatRows(cObsRows);
  const cCross = flatRows(cCrossRows);

  const scatterAxes = (sx, sy, xt, yt, key) => {
    const [X0, X1] = sx.range();
    const [Y0, Y1] = sy.range();
    return (
      <g key={key}>
        <line x1={X0} x2={X0} y1={Y0} y2={Y1} stroke="#555" />
        <line x1={X0} x2={X1} y1={Y0} y2={Y0} stroke="#555" />
        {xt.map((v) => (
          <g key={'x' + v}>
            <line x1={sx(v)} x2={sx(v)} y1={Y0} y2={Y0 - 5} stroke="#555" />
            <text x={sx(v)} y={Y0 + 17} textAnchor="middle" dominantBaseline="central" fontSize={18} fontFamily={SANS} fill="#222">{v}</text>
          </g>
        ))}
        {yt.map((v) => (
          <g key={'y' + v}>
            <line x1={X0} x2={X0 + 5} y1={sy(v)} y2={sy(v)} stroke="#555" />
            <text x={X0 - 8} y={sy(v)} textAnchor="end" dominantBaseline="central" fontSize={18} fontFamily={SANS} fill="#222">{v}</text>
          </g>
        ))}
      </g>
    );
  };

  const legendBCg = (mx, tx, ys, key) => (
    <g key={key} fontFamily={SANS} fontSize={13.5} fill="#222">
      <path d={circ(mx, ys[0], 3)} fill="none" stroke={mk.obs} strokeWidth={1} />
      <path d={plus(mx, ys[1], 4)} fill="none" stroke={mk.cross} strokeWidth={1} />
      <path d={star(mx, ys[2], 3.5)} fill="none" stroke={mk.star} strokeWidth={1.4} />
      <path d={diam(mx, ys[3], 4)} fill="none" stroke={mk.diam} strokeWidth={1} />
      <path d={sq(mx, ys[4], 3)} fill="none" stroke={mk.sq} strokeWidth={1} />
      {legendBC.map((s, i) => <text key={i} x={tx} y={ys[i]} dominantBaseline="central">{s}</text>)}
    </g>
  );

  return (
    <svg width={1313} height={1506} style={{ position: 'absolute', left: 0, top: 0, background: '#fff' }} xmlns="http://www.w3.org/2000/svg">
      <rect x={0} y={0} width={1313} height={1506} fill="#fff" />
      {/* ======== (a) ======== */}
      <text x={213} y={35} fontFamily={SERIF} fontWeight="bold" fontSize={24} fill="#111">(a)</text>
      {frame(yHs, hsTicks, 'fh')}
      {frame(yTp, tpTicks, 'ft')}
      {frame(yDp, dpTicks, 'fd')}

      {/* Hs */}
      <g fill="none" strokeLinejoin="round">
        <path d={obsLine(hsObs, yHs)} stroke={colA[0]} strokeWidth={1.3} strokeDasharray="1.3,2.6" />
        <path d={hsLine(hs236)} stroke={colA[1]} strokeWidth={1.7} />
        <path d={hsLine(hs150)} stroke={colA[2]} strokeWidth={1.7} />
        <path d={hsLine(hs130)} stroke={colA[4]} strokeWidth={1.6} />
        <path d={hsLine(hs100)} stroke={colA[3]} strokeWidth={1.8} />
      </g>
      {/* Tp */}
      <g fill="none" strokeLinejoin="miter">
        <path d={obsLine(tpObs, yTp)} stroke={colA[0]} strokeWidth={1.2} strokeDasharray="1.3,2.6" />
        <path d={stepPath(tp236)} stroke={colA[1]} strokeWidth={1.6} />
        <path d={stepPath(tp150)} stroke={colA[2]} strokeWidth={1.6} />
        <path d={stepPath(tp100)} stroke={colA[3]} strokeWidth={1.6} />
        <path d={stepPath(tp130)} stroke={colA[4]} strokeWidth={1.4} />
      </g>
      {/* Dp */}
      <g fill="none" strokeLinecap="round" strokeLinejoin="round">
        {dpObs.map((p, i) => <circle key={'o' + i} cx={x(td(p[0]))} cy={yDp(p[1])} r={1.6} fill={colDp.obs} stroke="none" />)}
        {dp100.map((s, i) => <path key={'n' + i} d={dpPath(s)} stroke={colDp.navy} strokeWidth={3} strokeDasharray="2.5,1.2" />)}
        {dp150.map((s, i) => <path key={'c' + i} d={dpPath(s)} stroke={colDp.cyan} strokeWidth={3} strokeDasharray="2.5,1.2" />)}
        {dp130.map((s, i) => <path key={'r' + i} d={dpPath(s)} stroke={colDp.orange} strokeWidth={3.6} strokeDasharray="3,1" />)}
      </g>

      {frameTop(yHs, hsTicks, 'th')}
      {frameTop(yTp, tpTicks, 'tt')}
      {frameTop(yDp, dpTicks, 'td')}

      {dts.map((d, i) => (
        <text key={'dl' + i} x={x(d)} y={874} textAnchor="middle" dominantBaseline="central" fontSize={17} fontFamily={SANS} fill="#222">{fmt(d)}</text>
      ))}

      <text transform="translate(222,159) rotate(-90)" textAnchor="middle" dominantBaseline="central" fontSize={19} fontFamily={SANS} fill="#222">Hs (m)</text>
      <text transform="translate(210,455) rotate(-90)" textAnchor="middle" dominantBaseline="central" fontSize={19} fontFamily={SANS} fill="#222">Tp (s)</text>
      <text transform="translate(200,750) rotate(-90)" textAnchor="middle" dominantBaseline="central" fontSize={19} fontFamily={SANS} fill="#222">Dp (degree)</text>

      {/* legend (a) */}
      <g>
        <rect x={268} y={60} width={838} height={28} fill="#fff" stroke="#333" strokeWidth={1} />
        {legendA.map((s, i) => (
          <g key={'la' + i}>
            <line x1={legX[i][0]} x2={legX[i][1]} y1={74} y2={74} stroke={colA[i]} strokeWidth={i === 0 ? 1.3 : 1.7} strokeDasharray={i === 0 ? '1.3,2.6' : undefined} />
            <text x={legX[i][2]} y={74} dominantBaseline="central" fontSize={17} fontFamily={SANS} fill="#222">{s}</text>
          </g>
        ))}
      </g>

      {/* ======== (b) ======== */}
      <text x={28} y={952} fontFamily={SERIF} fontWeight="bold" fontSize={24} fill="#111">(b)</text>
      {scatterAxes(bx, by, bTicks, bTicks, 'ab')}
      <g fill="none">
        <path d={pathOf(bObs, bx, by, circ, 3.6)} stroke={mk.obs} strokeWidth={1} />
        <path d={pathOf(b236, bx, by, plus, 4.5)} stroke={mk.cross} strokeWidth={1.2} />
        <path d={pathOf(b156, bx, by, star, 4.2)} stroke={mk.star} strokeWidth={1.7} />
        <path d={pathOf(b100, bx, by, diam, 4.6)} stroke={mk.diam} strokeWidth={1.1} />
        <path d={pathOf(b100, bx, by, sq, 2.8)} stroke={mk.sq} strokeWidth={1.2} />
        <path d={pathOf(b130Cols, bx, by, sq, 3)} fill="#3cf03c" stroke="#5aa85a" strokeWidth={0.8} />
      </g>
      {legendBCg(111, 131, [992, 1008, 1025, 1042, 1058], 'lb')}
      <text transform="translate(26,1205) rotate(-90)" textAnchor="middle" dominantBaseline="central" fontSize={22} fontFamily={SANS} fill="#222">
        Hs<tspan fontSize={15} dy={6}>sim</tspan><tspan dy={-6}> (m)</tspan>
      </text>
      <text x={360} y={1492} textAnchor="middle" fontSize={22} fontFamily={SANS} fill="#222">
        Hs<tspan fontSize={15} dy={6}>obs</tspan><tspan dy={-6}> (m)</tspan>
      </text>

      {/* ======== (c) ======== */}
      <text x={678} y={958} fontFamily={SERIF} fontWeight="bold" fontSize={24} fill="#111">(c)</text>
      {scatterAxes(cx, cy, cTicks, cYTicks, 'ac')}
      <g fill="none">
        <path d={pathOf(cObs, cx, cy, circ, 3.6)} stroke={mk.obs} strokeWidth={1} />
        <path d={pathOf(cCross, cx, cy, plus, 4.5)} stroke={mk.cross} strokeWidth={1.1} />
        <path d={pathOf(cSim, cx, cy, diam, 4.4)} stroke={mk.diam} strokeWidth={1.1} />
        <path d={pathOf(cSim, cx, cy, sq, 3)} stroke="#30c030" strokeWidth={1.3} />
        <path d={pathOf(cSim, cx, cy, star, 3.1)} stroke="#1a30b0" strokeWidth={1.4} />
        <path d={pathOf(cGreen, cx, cy, sq, 2.8)} stroke={mk.sq} strokeWidth={1.3} />
      </g>
      {legendBCg(763, 783, [997, 1013, 1030, 1047, 1063], 'lc')}
      <text transform="translate(683,1207) rotate(-90)" textAnchor="middle" dominantBaseline="central" fontSize={22} fontFamily={SANS} fill="#222">
        Tp<tspan fontSize={15} dy={6}>sim</tspan><tspan dy={-6}> (s)</tspan>
      </text>
      <text x={1015} y={1494} textAnchor="middle" fontSize={22} fontFamily={SANS} fill="#222">
        Tp<tspan fontSize={15} dy={6}>obs</tspan><tspan dy={-6}> (s)</tspan>
      </text>
    </svg>
  );
}
